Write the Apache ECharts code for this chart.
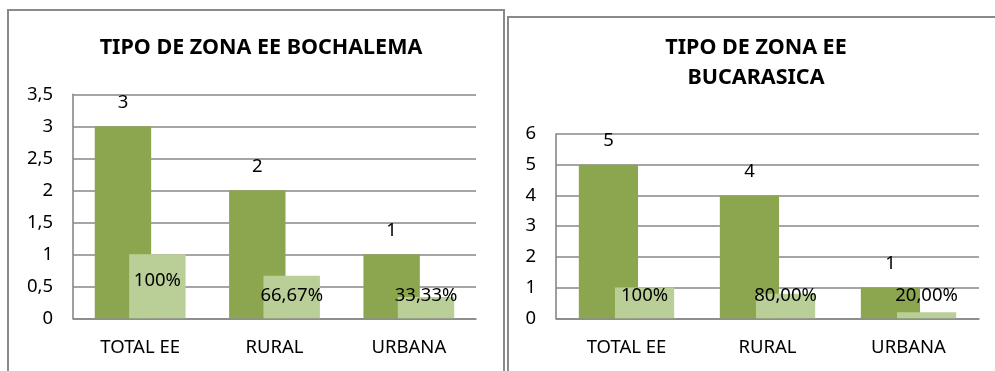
<!DOCTYPE html>
<html>
<head>
<meta charset="utf-8">
<script src="https://cdn.jsdelivr.net/npm/echarts@6/dist/echarts.min.js"></script>
<style>
html,body{margin:0;padding:0;background:#fff;}
#c{width:995px;height:371px;}
</style>
</head>
<body>
<div id="c"></div>
<script>
// ---- data ----
const categories = ['TOTAL EE', 'RURAL', 'URBANA'];
const bochalemaCounts = [3, 2, 1];
const bochalemaShares = [1, 0.6667, 0.3333];
const bochalemaShareLabels = ['100%', '66,67%', '33,33%'];
const bucarasicaCounts = [5, 4, 1];
const bucarasicaShares = [1, 0.8, 0.2];
const bucarasicaShareLabels = ['100%', '80,00%', '20,00%'];
const titles = ['TIPO DE ZONA EE BOCHALEMA', 'TIPO DE ZONA EE\nBUCARASICA'];

// ---- styles ----
const FONT = 'Noto Sans';
const FS = 18.5;
const DARK = '#8ca64f';
const LIGHT = '#bacf98';
const GRID = '#878787';

function shareData(values, labels, lifts) {
  return values.map((v, i) => ({
    value: v,
    label: { formatter: labels[i], distance: lifts[i] }
  }));
}

const commonLabel = { show: true, color: '#000', fontFamily: FONT, fontSize: FS };

const option = {
  animation: false,
  textStyle: { fontFamily: FONT },
  title: [
    { text: titles[0], left: 256, top: 28, textAlign: 'center',
      textStyle: { fontFamily: FONT, fontWeight: 'bold', fontSize: 21.5, color: '#000', lineHeight: 30 } },
    { text: titles[1], left: 751, top: 28, textAlign: 'center',
      textStyle: { fontFamily: FONT, fontWeight: 'bold', fontSize: 21.5, color: '#000', lineHeight: 30 } }
  ],
  grid: [
    { left: 73, right: 519, top: 94.3, bottom: 52.7 },
    { left: 556, right: 16, top: 134, bottom: 52.7 }
  ],
  xAxis: [0, 1].map(i => ({
    type: 'category', gridIndex: i, data: categories,
    axisLine: { lineStyle: { color: GRID, width: 1.6 } },
    axisTick: { show: false },
    axisLabel: { color: '#000', fontFamily: FONT, fontSize: FS, margin: 20 }
  })),
  yAxis: [
    { type: 'value', gridIndex: 0, min: 0, max: 3.5, interval: 0.5 },
    { type: 'value', gridIndex: 1, min: 0, max: 6, interval: 1 }
  ].map(a => Object.assign(a, {
    axisLine: { show: true, lineStyle: { color: GRID, width: 1.6 } },
    axisTick: { show: false },
    splitLine: { lineStyle: { color: GRID, width: 1.6 } },
    axisLabel: { color: '#000', fontFamily: FONT, fontSize: FS, margin: 20,
      formatter: v => String(v).replace('.', ',') }
  })),
  series: [
    { type: 'bar', xAxisIndex: 0, yAxisIndex: 0, data: bochalemaCounts,
      barWidth: '42%', barGap: '-39%', itemStyle: { color: DARK },
      label: Object.assign({}, commonLabel, { position: 'top', distance: 14 }) },
    { type: 'bar', xAxisIndex: 0, yAxisIndex: 0,
      data: shareData(bochalemaShares, bochalemaShareLabels, [28, 13.5, 13.5]),
      barWidth: '42%', barGap: '-39%', itemStyle: { color: LIGHT },
      label: Object.assign({}, commonLabel, { position: 'insideBottom' }) },
    { type: 'bar', xAxisIndex: 1, yAxisIndex: 1, data: bucarasicaCounts,
      barWidth: '42%', barGap: '-39%', itemStyle: { color: DARK },
      label: Object.assign({}, commonLabel, { position: 'top', distance: 14 }) },
    { type: 'bar', xAxisIndex: 1, yAxisIndex: 1,
      data: shareData(bucarasicaShares, bucarasicaShareLabels, [13.5, 13.5, 13.5]),
      barWidth: '42%', barGap: '-39%', itemStyle: { color: LIGHT },
      label: Object.assign({}, commonLabel, { position: 'insideBottom' }) }
  ],
  graphic: [
    { type: 'rect', shape: { x: 8, y: 10, width: 496, height: 400 },
      style: { fill: 'none', stroke: '#8a8a8a', lineWidth: 2 }, silent: true, z: -1 },
    { type: 'rect', shape: { x: 508, y: 17, width: 500, height: 400 },
      style: { fill: 'none', stroke: '#8a8a8a', lineWidth: 2 }, silent: true, z: -1 }
  ]
};

const chart = echarts.init(document.getElementById('c'), null, { renderer: 'canvas' });
chart.setOption(option);
</script>
</body>
</html>
